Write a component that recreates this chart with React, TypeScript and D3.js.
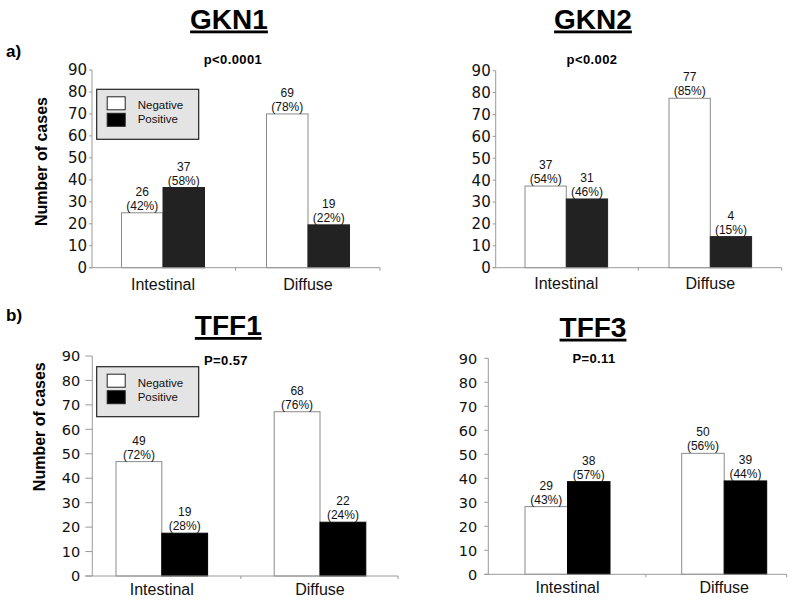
import React from 'react';
import * as d3 from 'd3';

const categories = ['Intestinal', 'Diffuse'];
const seriesNames = ['Negative', 'Positive'];
const yTicks = [0, 10, 20, 30, 40, 50, 60, 70, 80, 90];

const titles = ['GKN1', 'GKN2', 'TFF1', 'TFF3'];
const pValues = ['p<0.0001', 'p<0.002', 'P=0.57', 'P=0.11'];

const gkn1Negative = [25, 70];
const gkn1Positive = [36.5, 19.5];
const gkn1NegLabels = [['26', '(42%)'], ['69', '(78%)']];
const gkn1PosLabels = [['37', '(58%)'], ['19', '(22%)']];

const gkn2Negative = [37.3, 77.4];
const gkn2Positive = [31.4, 14.2];
const gkn2NegLabels = [['37', '(54%)'], ['77', '(85%)']];
const gkn2PosLabels = [['31', '(46%)'], ['4', '(15%)']];

const tff1Negative = [46.8, 67.2];
const tff1Positive = [17.5, 22];
const tff1NegLabels = [['49', '(72%)'], ['68', '(76%)']];
const tff1PosLabels = [['19', '(28%)'], ['22', '(24%)']];

const tff3Negative = [28.2, 50.4];
const tff3Positive = [38.6, 38.9];
const tff3NegLabels = [['29', '(43%)'], ['50', '(56%)']];
const tff3PosLabels = [['38', '(57%)'], ['39', '(44%)']];

type Layout = {
  axisX: number; axisRight: number; y0: number; y90: number;
  c1: number; c2: number; barW: number; tickLen: number; labelGap: number;
  tickFont: number; titleX: number; titleY: number; pX: number; pY: number;
  catY: number; posFill: string;
  legend?: { x: number; y: number };
  yLabel?: { x: number; y: number };
};

function Panel(props: {
  layout: Layout; title: string; pValue: string;
  neg: number[]; pos: number[]; negLabels: string[][]; posLabels: string[][];
}) {
  const { layout: L, title, pValue, neg, pos, negLabels, posLabels } = props;
  const y = d3.scaleLinear().domain([0, 90]).range([L.y0, L.y90]);
  const x = d3.scalePoint<string>().domain(categories).range([L.c1, L.c2]).padding(0);
  const inner = d3.scaleBand<string>().domain(seriesNames).range([-L.barW, L.barW]).padding(0);
  const values = [neg, pos];
  const labels = [negLabels, posLabels];
  const fills = ['#ffffff', L.posFill];
  const strokes = ['#8a8a8a', L.posFill];
  const mid = ((x(categories[0]) as number) + (x(categories[1]) as number)) / 2;
  const axisColor = '#9a9a9a';
  return (
    <g>
      <text x={L.titleX} y={L.titleY} textAnchor="middle" fontFamily="Liberation Sans, Arial, sans-serif"
        fontWeight="bold" fontSize={28} textDecoration="underline" fill="#000">{title}</text>
      <text x={L.pX} y={L.pY} textAnchor="middle" fontFamily="Liberation Sans, Arial, sans-serif"
        fontWeight="bold" fontSize={13} letterSpacing={0.4} fill="#000">{pValue}</text>
      {/* y axis */}
      <line x1={L.axisX} x2={L.axisX} y1={y(0)} y2={y(90)} stroke={axisColor} strokeWidth={1} />
      {yTicks.map((t) => (
        <g key={t}>
          <line x1={L.axisX - L.tickLen} x2={L.axisX} y1={y(t)} y2={y(t)} stroke={axisColor} strokeWidth={1} />
          <text x={L.axisX - L.tickLen - L.labelGap} y={y(t)} dy="0.36em" textAnchor="end"
            fontFamily="DejaVu Sans, Verdana, sans-serif" fontSize={L.tickFont} fill="#111">{t}</text>
        </g>
      ))}
      {/* bars */}
      {categories.map((c, ci) => (
        <g key={c}>
          {seriesNames.map((s, si) => {
            const v = values[si][ci];
            const bx = (x(c) as number) + (inner(s) as number);
            const bw = inner.bandwidth();
            return (
              <g key={s}>
                <rect x={bx} y={y(v)} width={bw} height={y(0) - y(v)} fill={fills[si]} stroke={strokes[si]} strokeWidth={1} />
                <text x={bx + bw / 2} y={y(v) - 17} textAnchor="middle" fontFamily="Liberation Sans, Arial, sans-serif"
                  fontSize={12} fill="#111">{labels[si][ci][0]}</text>
                <text x={bx + bw / 2} y={y(v) - 3} textAnchor="middle" fontFamily="Liberation Sans, Arial, sans-serif"
                  fontSize={12} fill="#111">{labels[si][ci][1]}</text>
              </g>
            );
          })}
          <text x={x(c) as number} y={L.catY} textAnchor="middle" fontFamily="Liberation Sans, Arial, sans-serif"
            fontSize={16} fill="#111">{c}</text>
        </g>
      ))}
      {/* x axis */}
      <line x1={L.axisX - L.tickLen} x2={L.axisRight} y1={y(0)} y2={y(0)} stroke={axisColor} strokeWidth={1} />
      <line x1={mid} x2={mid} y1={y(0)} y2={y(0) + 3} stroke={axisColor} strokeWidth={1} />
      <line x1={L.axisRight} x2={L.axisRight} y1={y(0)} y2={y(0) + 3} stroke={axisColor} strokeWidth={1} />
      {L.yLabel && (
        <text transform={`translate(${L.yLabel.x},${L.yLabel.y}) rotate(-90)`} textAnchor="middle"
          fontFamily="Liberation Sans, Arial, sans-serif" fontWeight="bold" fontSize={16} fill="#000">Number of cases</text>
      )}
      {L.legend && (
        <g transform={`translate(${L.legend.x},${L.legend.y})`}>
          <rect x={0} y={0} width={102} height={50} fill="#e4e4e4" stroke="#222" strokeWidth={1.2} />
          {seriesNames.map((s, i) => (
            <g key={s}>
              <rect x={10.5} y={7.5 + i * 16.5} width={18} height={13} fill={i === 0 ? '#ffffff' : '#000'} stroke="#222" strokeWidth={1} />
              <text x={41} y={20 + i * 14} fontFamily="Liberation Sans, Arial, sans-serif" fontSize={11.5} fill="#111">{s}</text>
            </g>
          ))}
        </g>
      )}
    </g>
  );
}

const layouts: Layout[] = [
  { axisX: 92, axisRight: 380, y0: 267.7, y90: 70, c1: 163, c2: 308, barW: 41.5, tickLen: 3, labelGap: 2,
    tickFont: 15, titleX: 229, titleY: 28.5, pX: 233, pY: 64, catY: 290, posFill: '#222222',
    legend: { x: 96.7, y: 89.3 }, yLabel: { x: 46.5, y: 161.5 } },
  { axisX: 495.7, axisRight: 781.7, y0: 267.7, y90: 70.7, c1: 566.3, c2: 710.3, barW: 41.3, tickLen: 3, labelGap: 2,
    tickFont: 15, titleX: 593, titleY: 28.5, pX: 592, pY: 63.5, catY: 289, posFill: '#222222' },
  { axisX: 92.3, axisRight: 398, y0: 576, y90: 356, c1: 161.8, c2: 320, barW: 45.8, tickLen: 7, labelGap: 5,
    tickFont: 14.5, titleX: 228.3, titleY: 335, pX: 226, pY: 364.5, catY: 595, posFill: '#000000',
    legend: { x: 96.7, y: 366.7 }, yLabel: { x: 45, y: 426.7 } },
  { axisX: 488.3, axisRight: 786.7, y0: 574.3, y90: 358.3, c1: 567.5, c2: 724.2, barW: 42.5, tickLen: 4, labelGap: 7,
    tickFont: 14.5, titleX: 593, titleY: 336.7, pX: 594, pY: 362.5, catY: 593, posFill: '#000000' },
];

export default function App() {
  const negs = [gkn1Negative, gkn2Negative, tff1Negative, tff3Negative];
  const poss = [gkn1Positive, gkn2Positive, tff1Positive, tff3Positive];
  const negL = [gkn1NegLabels, gkn2NegLabels, tff1NegLabels, tff3NegLabels];
  const posL = [gkn1PosLabels, gkn2PosLabels, tff1PosLabels, tff3PosLabels];
  return (
    <svg width={795} height={602} style={{ position: 'absolute', left: 0, top: 0, background: '#fff' }}>
      <rect x={0} y={0} width={795} height={602} fill="#fff" />
      <text x={6} y={57} fontFamily="Liberation Sans, Arial, sans-serif" fontWeight="bold" fontSize={17} fill="#000">a)</text>
      <text x={6} y={321} fontFamily="Liberation Sans, Arial, sans-serif" fontWeight="bold" fontSize={17} fill="#000">b)</text>
      {layouts.map((L, i) => (
        <Panel key={titles[i]} layout={L} title={titles[i]} pValue={pValues[i]}
          neg={negs[i]} pos={poss[i]} negLabels={negL[i]} posLabels={posL[i]} />
      ))}
    </svg>
  );
}
